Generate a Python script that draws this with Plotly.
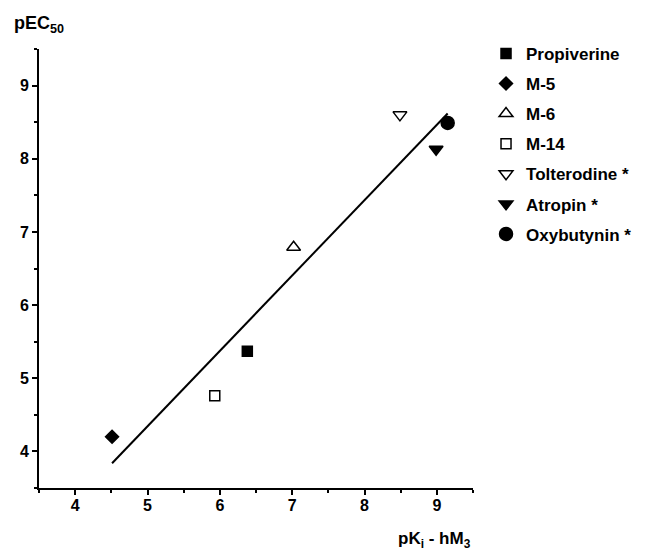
import numpy as np
import plotly.graph_objects as go

# ---- data ----
compounds = ["Propiverine", "M-5", "M-6", "M-14", "Tolterodine *", "Atropin *", "Oxybutynin *"]
pKi_hM3 = [6.38, 4.51, 7.02, 5.93, 8.49, 8.99, 9.15]
pEC50 = [5.37, 4.20, 6.79, 4.76, 8.60, 8.13, 8.49]

x_ticks = [4, 5, 6, 7, 8, 9]
y_ticks = [4, 5, 6, 7, 8, 9]

# ---- styles ----
symbols = ["square", "diamond", "triangle-up-open", "square-open",
           "triangle-down-open", "triangle-down", "circle"]
sizes = [10, 10, 12, 10, 12, 12, 13]

FONT = "Liberation Sans, Arial, sans-serif"

fig = go.Figure()

# linear regression line across the data range
slope, intercept = np.polyfit(pKi_hM3, pEC50, 1)
xf = np.array([min(pKi_hM3), max(pKi_hM3)])
fig.add_trace(go.Scatter(x=xf, y=slope * xf + intercept, mode="lines",
                         line=dict(color="black", width=2), showlegend=False,
                         hoverinfo="skip"))

for name, xv, yv, sym, sz in zip(compounds, pKi_hM3, pEC50, symbols, sizes):
    fig.add_trace(go.Scatter(
        x=[xv], y=[yv], mode="markers", name=name, legendgroup=name,
        marker=dict(symbol=sym, size=sz, color="black",
                    line=dict(color="black", width=1.5)),
    ))

axis_common = dict(
    showgrid=False, zeroline=False, showline=True, linecolor="black", linewidth=2,
    ticks="outside", ticklen=5, tickwidth=1.5, tickcolor="black",
    tickfont=dict(family=FONT, size=16, color="black", weight="bold"),
    minor=dict(ticks="outside", ticklen=3, tickwidth=1.5, tickcolor="black", dtick=0.5),
    mirror=False,
)

fig.update_xaxes(range=[3.5, 9.5], tickvals=x_ticks, ticklabelstandoff=-3, **axis_common)
fig.update_yaxes(range=[3.5, 9.5], tickvals=y_ticks, **axis_common)

fig.update_layout(
    width=649, height=553,
    margin=dict(l=39, r=171, t=49, b=65),
    paper_bgcolor="white", plot_bgcolor="white",
    showlegend=True,
    legend=dict(x=1.03, xanchor="left", y=1.03, yanchor="top",
                font=dict(family=FONT, size=17, color="black", weight="bold"),
                borderwidth=0,
                bgcolor="rgba(0,0,0,0)", traceorder="grouped", tracegroupgap=5),
    annotations=[
        dict(text="pEC<sub>50</sub>", xref="paper", yref="paper",
             x=-0.062, y=1.055, xanchor="left", yanchor="middle", showarrow=False,
             font=dict(family=FONT, size=18, color="black", weight="bold")),
        dict(text="pK<sub>i</sub> - hM<sub>3</sub>", xref="paper", yref="paper",
             x=1.0, y=-0.118, xanchor="right", yanchor="middle", showarrow=False,
             font=dict(family=FONT, size=17, color="black", weight="bold")),
    ],
)

fig.write_html("out.html")
